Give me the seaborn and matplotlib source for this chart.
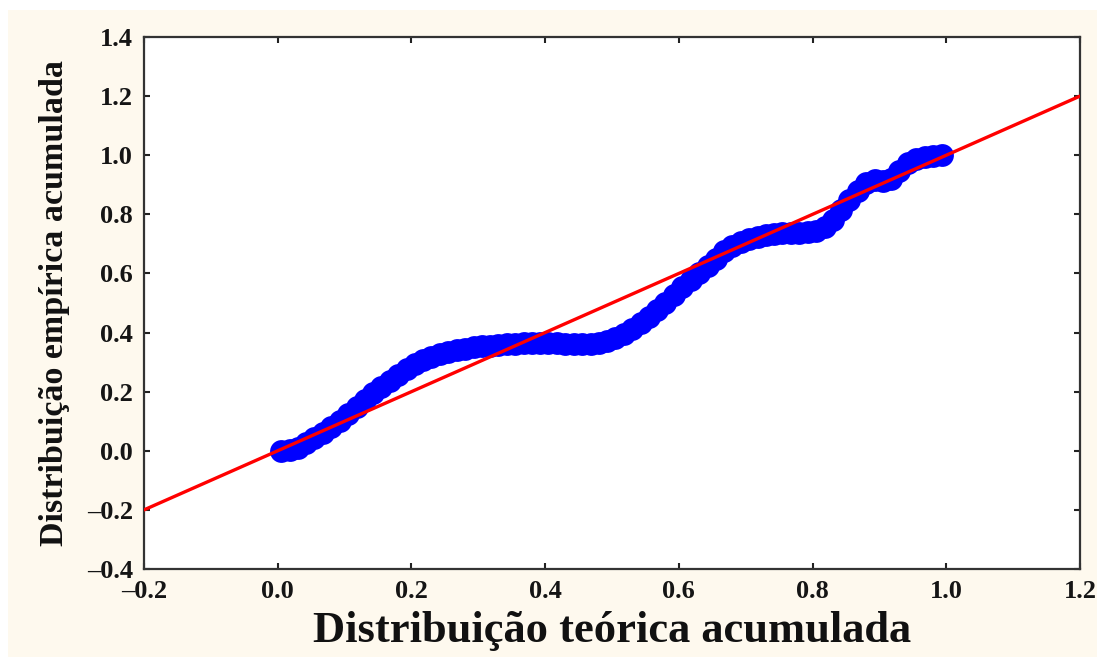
import matplotlib
matplotlib.use("Agg")
import matplotlib.pyplot as plt
import seaborn as sns
import pandas as pd
from matplotlib.patches import Rectangle

# Data (P-P plot)
theoretical = [0.005, 0.018, 0.030, 0.043, 0.055, 0.068, 0.080, 0.093, 0.105, 0.118,
               0.130, 0.143, 0.155, 0.168, 0.180, 0.193, 0.205, 0.218, 0.230, 0.243,
               0.255, 0.268, 0.280, 0.293, 0.305, 0.318, 0.330, 0.343, 0.355, 0.368,
               0.380, 0.393, 0.405, 0.418, 0.430, 0.443, 0.455, 0.468, 0.480, 0.493,
               0.505, 0.518, 0.530, 0.543, 0.555, 0.568, 0.580, 0.593, 0.605, 0.618,
               0.630, 0.643, 0.655, 0.668, 0.680, 0.693, 0.705, 0.718, 0.730, 0.743,
               0.755, 0.768, 0.780, 0.793, 0.805, 0.818, 0.830, 0.843, 0.855, 0.868,
               0.880, 0.893, 0.905, 0.918, 0.930, 0.943, 0.955, 0.968, 0.980, 0.993]
empirical = [0.000, 0.003, 0.010, 0.025, 0.042, 0.060, 0.080, 0.100, 0.123, 0.148,
             0.172, 0.195, 0.215, 0.235, 0.258, 0.278, 0.295, 0.308, 0.318, 0.327,
             0.334, 0.340, 0.345, 0.350, 0.353, 0.356, 0.358, 0.360, 0.362, 0.363,
             0.364, 0.365, 0.364, 0.363, 0.362, 0.361, 0.361, 0.362, 0.366, 0.373,
             0.382, 0.395, 0.412, 0.432, 0.453, 0.475, 0.500, 0.527, 0.553, 0.578,
             0.600, 0.625, 0.650, 0.675, 0.693, 0.708, 0.718, 0.725, 0.730, 0.734,
             0.737, 0.738, 0.738, 0.740, 0.745, 0.758, 0.782, 0.815, 0.850, 0.880,
             0.905, 0.915, 0.913, 0.920, 0.945, 0.972, 0.988, 0.995, 0.998, 1.002]
ref_x = [-0.2, 1.2]
ref_y = [-0.2, 1.2]

x_ticks = [-0.2, 0.0, 0.2, 0.4, 0.6, 0.8, 1.0, 1.2]
y_ticks = [-0.4, -0.2, 0.0, 0.2, 0.4, 0.6, 0.8, 1.0, 1.2, 1.4]
x_label = "Distribuição teórica acumulada"
y_label = "Distribuição empírica acumulada"

sns.set_theme(style="ticks")
plt.rcParams['font.family'] = ['Liberation Serif', 'DejaVu Serif']
plt.rcParams['font.weight'] = 'bold'
plt.rcParams['axes.unicode_minus'] = False

fig = plt.figure(figsize=(10.97, 6.57), dpi=100, facecolor='white')
bg = Rectangle((8 / 1097, 0), 1 - 8 / 1097, (657 - 10) / 657,
               transform=fig.transFigure, facecolor='#FEF9EE',
               edgecolor='none', zorder=-10)
fig.patches.append(bg)
ax = fig.add_axes([144 / 1097, 1 - 569 / 657, (1080 - 144) / 1097, (569 - 37) / 657])
ax.set_zorder(5)
ax.set_facecolor('white')

pts = pd.DataFrame({"x": theoretical, "y": empirical})
line = pd.DataFrame({"x": ref_x, "y": ref_y})

sns.scatterplot(data=pts, x="x", y="y", ax=ax, color='#0000FF', s=270,
                edgecolor='#0000FF', linewidth=0, zorder=2)
sns.lineplot(data=line, x="x", y="y", ax=ax, color='#FF0000', linewidth=2.4,
             zorder=3)

ax.set_xlim(-0.2, 1.2)
ax.set_ylim(-0.4, 1.4)
ax.set_xticks(x_ticks)
ax.set_yticks(y_ticks)
ax.set_xticklabels([("–" if v < 0 else "") + f"{abs(v):.1f}" for v in x_ticks])
ax.set_yticklabels([("–" if v < 0 else "") + f"{abs(v):.1f}" for v in y_ticks])
ax.tick_params(axis='both', direction='in', length=4, width=1.5, color='#222222',
               top=True, right=True, labelsize=19, labelcolor='#151515', pad=8)
for lab in ax.get_xticklabels() + ax.get_yticklabels():
    lab.set_fontweight('bold')
for sp in ax.spines.values():
    sp.set_visible(True)
    sp.set_color('#333333')
    sp.set_linewidth(1.6)

ax.set_xlabel(x_label, fontsize=32, fontweight='bold', color='#111111', labelpad=6)
ax.set_ylabel(y_label, fontsize=24.5, fontweight='bold', color='#111111', labelpad=12)

fig.savefig("out.png", dpi=100, facecolor=fig.get_facecolor())
